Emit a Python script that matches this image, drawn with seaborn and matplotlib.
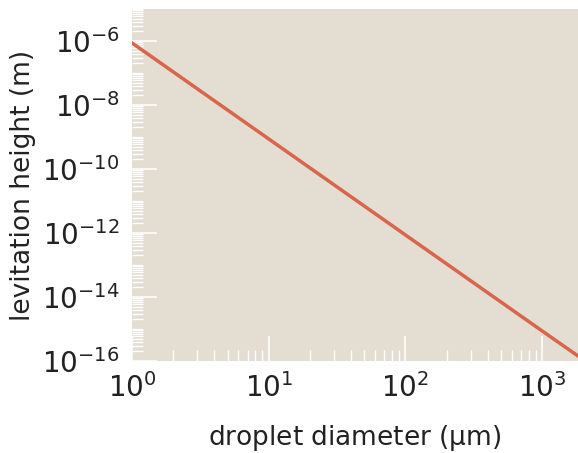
import seaborn as sns
import pandas as pd
import numpy as np
import matplotlib.pyplot as plt
from matplotlib.ticker import LogLocator, NullFormatter

# values (log-log, slope about -3)
diameters = [1, 10, 100, 1000, 2000]
heights = [8.7e-7, 8.7e-10, 8.7e-13, 8.7e-16, 1.1e-16]
ytick_vals = [1e-16, 1e-14, 1e-12, 1e-10, 1e-8, 1e-6]

df = pd.DataFrame({'diameter': diameters, 'height': heights})

bg = '#e3ddd2'
line_color = '#d9654b'

sns.set_style('ticks', {'axes.facecolor': bg, 'axes.edgecolor': bg})
plt.rcParams['font.family'] = ['DejaVu Sans']
plt.rcParams['mathtext.fontset'] = 'dejavusans'

fig = plt.figure(figsize=(5.78, 4.53), dpi=100)
ax = fig.add_axes([132 / 578, 92 / 453, 446 / 578, 352 / 453])

sns.lineplot(data=df, x='diameter', y='height', color=line_color, linewidth=2.5, ax=ax)
ax.set_xscale('log')
ax.set_yscale('log')
ax.set_xlim(1, 1830)
ax.set_ylim(1e-16, 1e-5)

for s in ax.spines.values():
    s.set_visible(False)

ax.set_yticks(ytick_vals)
# every decade and its 2..9 subdivisions as minor ticks on y
ax.yaxis.set_minor_locator(LogLocator(base=10, subs=np.arange(1, 10), numticks=200))
ax.yaxis.set_minor_formatter(NullFormatter())
ax.xaxis.set_minor_locator(LogLocator(base=10, subs=np.arange(2, 10), numticks=200))
ax.xaxis.set_minor_formatter(NullFormatter())

ax.tick_params(which='major', direction='in', length=18, width=1.1, color='white', labelsize=20, pad=9)
ax.tick_params(which='minor', direction='in', length=8, width=1, color='white')

ax.set_xlabel(r'droplet diameter ($\mathrm{\mu}$m)', fontsize=19, color='#222222', labelpad=14)
ax.set_ylabel('levitation height (m)', fontsize=19, color='#222222', labelpad=4)
ax.tick_params(labelcolor='#222222')

fig.savefig('out.png', dpi=100)
